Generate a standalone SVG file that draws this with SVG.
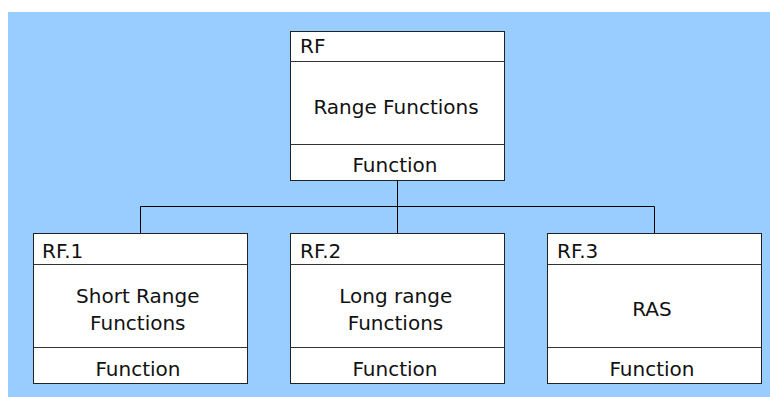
<svg xmlns="http://www.w3.org/2000/svg" width="770" height="397" viewBox="0 0 770 397">
  <style>
    .box { fill: #ffffff; stroke: #222222; stroke-width: 1; }
    .div { stroke: #333333; stroke-width: 1; }
    .wire { fill: none; stroke: #000000; stroke-width: 1; }
    text { font-family: "DejaVu Sans", Verdana, sans-serif; font-size: 20px; fill: #111111; }
    .c { text-anchor: middle; }
  </style>
  <rect x="8" y="12" width="762" height="385" fill="#99ccff"/>

  <g id="connectors">
    <path class="wire" d="M397.5 180.5 V206.5 M140.5 206.5 H654.5 M140.5 206.5 V233.5 M397.5 206.5 V233.5 M654.5 206.5 V233.5"/>
  </g>

  <g id="RF">
    <rect class="box" x="290.5" y="31.5" width="214" height="149"/>
    <line class="div" x1="290.5" y1="61.5" x2="504.5" y2="61.5"/>
    <line class="div" x1="290.5" y1="144.5" x2="504.5" y2="144.5"/>
    <text x="300" y="53.3">RF</text>
    <text class="c" x="396" y="114">Range Functions</text>
    <text class="c" x="395" y="171.5">Function</text>
  </g>

  <g id="RF1">
    <rect class="box" x="33.5" y="233.5" width="214" height="150"/>
    <line class="div" x1="33.5" y1="264.5" x2="247.5" y2="264.5"/>
    <line class="div" x1="33.5" y1="347.5" x2="247.5" y2="347.5"/>
    <text x="42" y="257.7">RF.1</text>
    <text class="c" x="137.8" y="303.3">Short Range</text>
    <text class="c" x="137.8" y="330">Functions</text>
    <text class="c" x="138" y="375.7">Function</text>
  </g>

  <g id="RF2">
    <rect class="box" x="290.5" y="233.5" width="214" height="150"/>
    <line class="div" x1="290.5" y1="264.5" x2="504.5" y2="264.5"/>
    <line class="div" x1="290.5" y1="347.5" x2="504.5" y2="347.5"/>
    <text x="300" y="257.7">RF.2</text>
    <text class="c" x="395.8" y="303.3">Long range</text>
    <text class="c" x="395.5" y="330">Functions</text>
    <text class="c" x="395" y="375.7">Function</text>
  </g>

  <g id="RF3">
    <rect class="box" x="547.5" y="233.5" width="214" height="150"/>
    <line class="div" x1="547.5" y1="264.5" x2="761.5" y2="264.5"/>
    <line class="div" x1="547.5" y1="347.5" x2="761.5" y2="347.5"/>
    <text x="557" y="257.7">RF.3</text>
    <text class="c" x="652" y="315.7">RAS</text>
    <text class="c" x="652" y="375.7">Function</text>
  </g>
</svg>
